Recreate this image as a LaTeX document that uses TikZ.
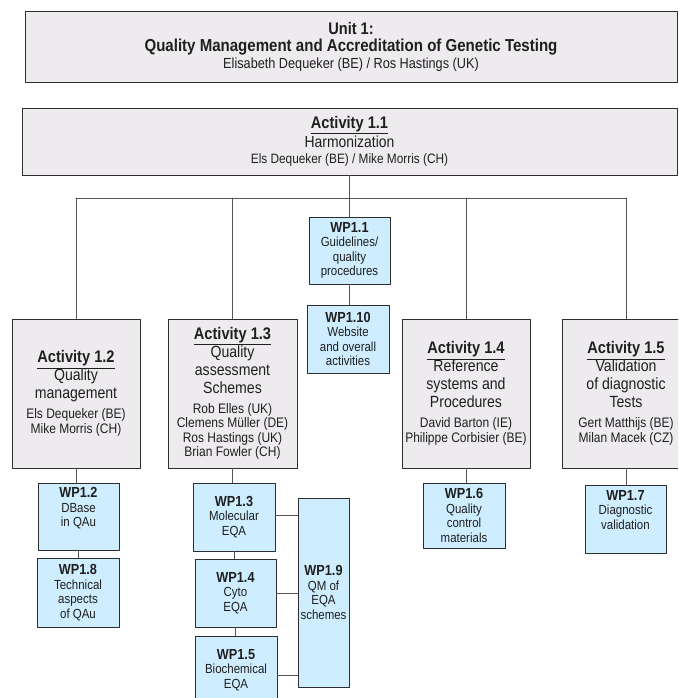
\documentclass[tikz,border=0pt]{standalone}
\usepackage{fontspec}
\setmainfont{Liberation Sans}[FakeStretch=0.87]
\definecolor{actfill}{RGB}{238,235,239}
\definecolor{wpfill}{RGB}{206,237,255}
\definecolor{edgegray}{RGB}{45,45,45}
\definecolor{linkgray}{RGB}{85,85,85}
\newcommand\acthead[1]{{\fontsize{16.8}{18}\selectfont\bfseries\underline{#1}}}
\newcommand\actdesc[1]{{\fontsize{16.2}{18}\selectfont #1}}
\newcommand\wphead[1]{{\fontsize{14.6}{14.5}\selectfont\bfseries #1}}
\begin{document}
\begin{tikzpicture}[x=1pt,y=-1pt, line join=round, line cap=round,
    box/.style={draw=edgegray, line width=0.8pt, inner sep=0pt, align=center, text=black!88},
    unitbox/.style={box, fill=actfill, font=\fontsize{14.6}{17}\selectfont},
    actbox/.style={box, fill=actfill, minimum width=128pt, minimum height=149pt, font=\fontsize{13.8}{18}\selectfont},
    wpbox/.style={box, fill=wpfill, minimum width=82pt, minimum height=68pt, font=\fontsize{13.2}{14.5}\selectfont},
    link/.style={draw=linkgray, line width=0.8pt}]
    \clip (0,0) rectangle (678,698);
    \fill[white] (0,0) rectangle (678,698);
    % unit and harmonization
    \node[unitbox, minimum width=652pt, minimum height=71pt] (unit) at (351,47)
        {{\fontsize{16.8}{17}\selectfont\bfseries Unit 1:}\\
         {\fontsize{17.3}{17}\selectfont\bfseries Quality Management and Accreditation of Genetic Testing}\\
         Elisabeth Dequeker (BE) / Ros Hastings (UK)};
    \node[actbox, minimum width=655pt, minimum height=67pt, font=\fontsize{13.6}{17}\selectfont] (act11) at (349.5,141.5)
        {\acthead{Activity 1.1}\\[1pt] {\fontsize{16}{17}\selectfont Harmonization}\\[-1pt]
         Els Dequeker (BE) / Mike Morris (CH)};
    \coordinate (bus) at (0,198);
    % activities
    \node[actbox] (act12) at (76,393.5)
        {\acthead{Activity 1.2}\\ \actdesc{Quality}\\ \actdesc{management}\\[2pt]
         Els Dequeker (BE)\\[-3.5pt] Mike Morris (CH)};
    \node[actbox, minimum width=129pt] (act13) at (232.5,393.5)
        {\acthead{Activity 1.3}\\ \actdesc{Quality}\\ \actdesc{assessment}\\ \actdesc{Schemes}\\[2pt]
         Rob Elles (UK)\\[-3.5pt] Clemens Müller (DE)\\[-3.5pt] Ros Hastings (UK)\\[-3.5pt] Brian Fowler (CH)};
    \node[actbox] (act14) at (466,393.5)
        {\acthead{Activity 1.4}\\ \actdesc{Reference}\\ \actdesc{systems and}\\ \actdesc{Procedures}\\[2pt]
         David Barton (IE)\\[-3.5pt] Philippe Corbisier (BE)};
    \node[actbox] (act15) at (626,393.5)
        {\acthead{Activity 1.5}\\ \actdesc{Validation}\\ \actdesc{of diagnostic}\\ \actdesc{Tests}\\[2pt]
         Gert Matthijs (BE)\\[-3.5pt] Milan Macek (CZ)};
    % work packages
    \node[wpbox, minimum width=81pt, minimum height=67pt] (wp11) at (349.5,250.5)
        {\wphead{WP1.1}\\ Guidelines/\\ quality\\ procedures};
    \node[wpbox] (wp110) at (348,339)
        {\wphead{WP1.10}\\ Website\\ and overall\\ activities};
    \node[wpbox, minimum width=81pt, minimum height=67pt] (wp12) at (78.5,516.5)
        {\wphead{WP1.2}\\ DBase\\ in QAu\\ \strut};
    \node[wpbox, minimum height=69pt] (wp18) at (78,592.5)
        {\wphead{WP1.8}\\ Technical\\ aspects\\ of QAu};
    \node[wpbox] (wp13) at (234,517)
        {\wphead{WP1.3}\\ Molecular\\ EQA};
    \node[wpbox, minimum width=81pt] (wp14) at (235.5,593)
        {\wphead{WP1.4}\\ Cyto\\ EQA};
    \node[wpbox] (wp15) at (236,670)
        {\wphead{WP1.5}\\ Biochemical\\ EQA};
    \node[wpbox, minimum width=51pt, minimum height=189pt] (wp19) at (323.5,592.5)
        {\wphead{WP1.9}\\ QM of\\ EQA\\ schemes};
    \node[wpbox, minimum height=65pt] (wp16) at (464,515.5)
        {\wphead{WP1.6}\\ Quality\\ control\\ materials};
    \node[wpbox, minimum width=81pt] (wp17) at (625.5,519)
        {\wphead{WP1.7}\\ Diagnostic\\ validation\\ \strut};
    % connectors
    \draw[link] (act11.south -| wp11.north) -- (wp11.north);
    \draw[link] (act12.north |- bus) -- (act15.north |- bus);
    \foreach \n in {act12,act13,act14,act15}
        \draw[link] (\n.north |- bus) -- (\n.north);
    \draw[link] (wp11.south) -- (wp11.south |- wp110.north);
    \draw[link] (act12.south) -- (act12.south |- wp12.north);
    \draw[link] (wp12.south) -- (wp12.south |- wp18.north);
    \draw[link] (act13.south) -- (act13.south |- wp13.north);
    \draw[link] (wp13.south) -- (wp13.south |- wp14.north);
    \draw[link] (wp14.south) -- (wp14.south |- wp15.north);
    \draw[link] (act14.south) -- (act14.south |- wp16.north);
    \draw[link] (act15.south) -- (act15.south |- wp17.north);
    \draw[link] ([yshift=2pt]wp13.east) -- ([yshift=2pt]wp13.east -| wp19.west);
    \draw[link] (wp14.east) -- (wp14.east -| wp19.west);
    \draw[link] ([yshift=-5pt]wp15.east) -- ([yshift=-5pt]wp15.east -| wp19.west);
\end{tikzpicture}
\end{document}
